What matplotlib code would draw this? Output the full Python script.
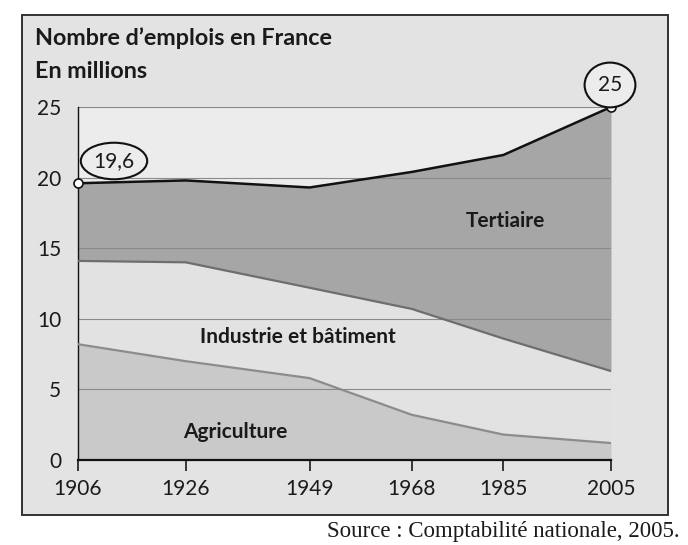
import matplotlib
matplotlib.use("Agg")
import matplotlib.pyplot as plt
from matplotlib.patches import Rectangle

# Données (millions d'emplois, cumulés)
annees = [1906, 1926, 1949, 1968, 1985, 2005]
agriculture = [8.2, 7.0, 5.8, 3.2, 1.8, 1.2]          # haut de la zone agriculture
industrie_cumul = [14.1, 14.0, 12.2, 10.7, 8.6, 6.3]  # agriculture + industrie
total = [19.6, 19.8, 19.3, 20.4, 21.6, 25.0]          # total des emplois
graduations_y = [0, 5, 10, 15, 20, 25]

plt.rcParams['font.family'] = ['Lato', 'DejaVu Sans']
encre = '#1a1a1a'

fig = plt.figure(figsize=(6.88, 5.45), dpi=100)
fig.patch.set_facecolor('white')

# cadre gris autour du graphique
cadre = Rectangle((22/688, 1-515/545), 646/688, 500/545, transform=fig.transFigure,
                  facecolor='#e3e3e3', edgecolor='#333333', linewidth=1.4, zorder=-10)
fig.patches.append(cadre)

ax = fig.add_axes([78/688, 1-460/545, 533/688, 353/545])
ax.set_facecolor('#ececec')
ax.set_xlim(annees[0], annees[-1])
ax.set_ylim(0, 25)

ax.fill_between(annees, 0, agriculture, color='#c9c9c9', lw=0, zorder=1)
ax.fill_between(annees, agriculture, industrie_cumul, color='#e2e2e2', lw=0, zorder=1)
ax.fill_between(annees, industrie_cumul, total, color='#a6a6a6', lw=0, zorder=1)

ax.hlines(graduations_y[1:], annees[0], annees[-1], color='#8a8a8a', lw=0.8, zorder=2)

ax.plot(annees, agriculture, color='#8c8c8c', lw=1.6, zorder=3)
ax.plot(annees, industrie_cumul, color='#6e6e6e', lw=1.6, zorder=3)
ax.plot(annees, total, color='#111111', lw=1.8, zorder=4)
ax.plot([annees[0], annees[-1]], [total[0], total[-1]], 'o', ms=6.5, mfc='white',
        mec='#111111', mew=1.2, zorder=5, clip_on=False)

for s in ['top', 'right']:
    ax.spines[s].set_visible(False)
ax.spines['left'].set_color('#111111')
ax.spines['bottom'].set_color('#111111')
ax.spines['left'].set_linewidth(1.0)
ax.spines['bottom'].set_linewidth(1.6)

ax.set_xticks(annees)
ax.set_xticklabels([str(a) for a in annees])
ax.set_yticks(graduations_y)
ax.tick_params(axis='x', direction='out', length=8, width=1.2, pad=6,
               labelsize=15, colors=encre)
ax.tick_params(axis='y', length=0, pad=12, labelsize=15, colors=encre)

# titres
fig.text(35/688, 1-38/545, "Nombre d\u2019emplois en France", fontsize=16.8,
         fontweight='bold', color=encre, va='center', ha='left')
fig.text(35/688, 1-72/545, "En millions", fontsize=16.8,
         fontweight='bold', color=encre, va='center', ha='left')

# étiquettes des zones
ax.text(1985.3, 16.9, "Tertiaire", fontsize=15, fontweight='bold', color=encre,
        ha='center', va='center', zorder=6)
ax.text(1946.8, 8.7, "Industrie et b\u00e2timent", fontsize=15, fontweight='bold',
        color=encre, ha='center', va='center', zorder=6)
ax.text(1935.2, 2.0, "Agriculture", fontsize=15, fontweight='bold', color=encre,
        ha='center', va='center', zorder=6)

# valeurs entourées
ax.annotate("19,6", xy=(annees[0], total[0]), xytext=(114/688, 1-161/545),
            textcoords='figure fraction', ha='center', va='center', fontsize=15,
            color=encre, bbox=dict(boxstyle='ellipse,pad=0.14', fc='#ececec',
                                   ec='#111111', lw=1.5), zorder=6)
ax.annotate("25", xy=(annees[-1], total[-1]), xytext=(610/688, 1-85/545),
            textcoords='figure fraction', ha='center', va='center', fontsize=15,
            color=encre, bbox=dict(boxstyle='ellipse,pad=0.28', fc='#ececec',
                                   ec='#111111', lw=1.5), zorder=6)

fig.text(680/688, 1-531/545, "Source : Comptabilit\u00e9 nationale, 2005.",
         fontsize=16.5, family='Liberation Serif', color=encre, ha='right', va='center')

fig.savefig("out.png", dpi=100, facecolor=fig.get_facecolor())
